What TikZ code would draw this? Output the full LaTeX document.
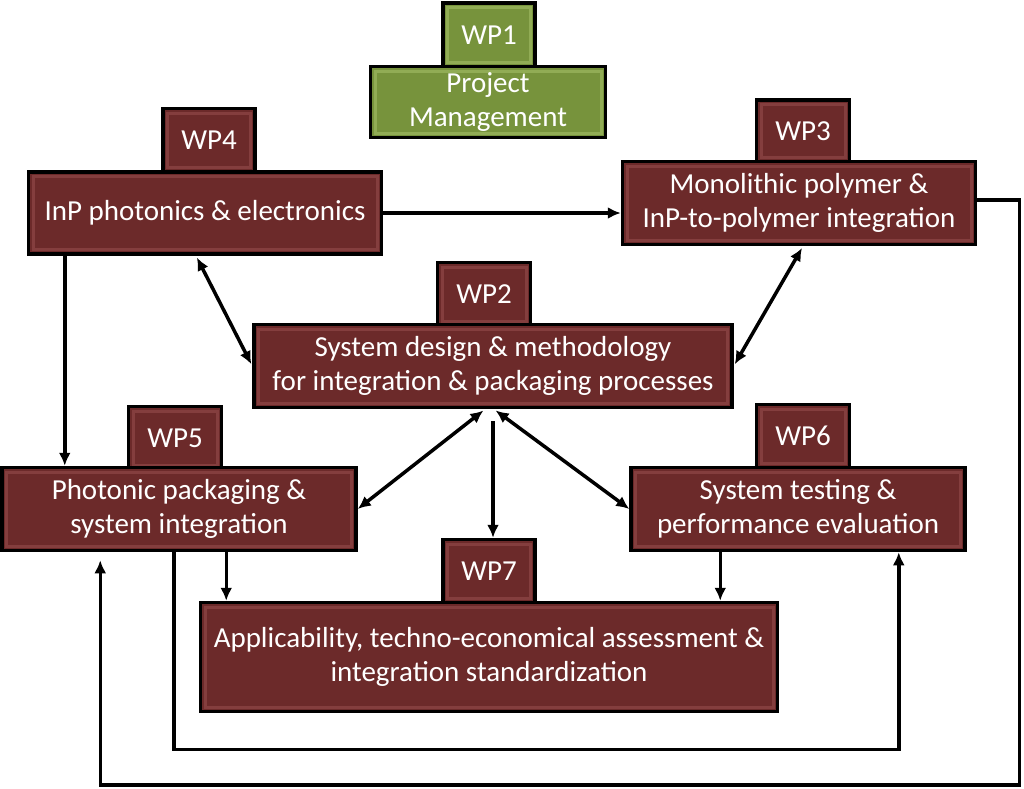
\documentclass[tikz,border=0pt]{standalone}
\usepackage{fontspec}
\setmainfont{Carlito}
\usetikzlibrary{arrows.meta}
\definecolor{boxred}{RGB}{108,42,42}
\definecolor{boxgreen}{RGB}{119,147,60}
\definecolor{bevelred}{RGB}{132,62,62}
\definecolor{bevelgreen}{RGB}{145,172,85}

\tikzset{
  bevel/.style={bevelred},
  wp/.style={draw=black, line width=3.5pt, fill=boxred, text=white, align=center, inner sep=0pt,
    font=\fontsize{29}{34}\selectfont,
    path picture={\draw[bevel, line width=3pt]
      ([shift={(4.5pt,-4.5pt)}]path picture bounding box.north west) rectangle
      ([shift={(-4.5pt,4.5pt)}]path picture bounding box.south east);}},
  wpgreen/.style={wp, fill=boxgreen, bevel/.style={bevelgreen}},
  link/.style={line width=3.5pt, -{Latex[length=13pt,width=12pt]}},
  dlink/.style={line width=3.5pt, {Latex[length=13pt,width=12pt]}-{Latex[length=13pt,width=12pt]}}
}

\begin{document}
\begin{tikzpicture}[x=1pt, y=-1pt]
\useasboundingbox (0,0) rectangle (1024,788);

% tabs
\node[wpgreen, minimum width=92pt, minimum height=64pt] (wp1tab) at (489,35) {WP1};
\node[wp, minimum width=92pt, minimum height=63pt] (wp4tab) at (209,140) {WP4};
\node[wp, minimum width=93pt, minimum height=62pt] (wp3tab) at (803,131) {WP3};
\node[wp, minimum width=93pt, minimum height=63pt] (wp2tab) at (484,294) {WP2};
\node[wp, minimum width=93pt, minimum height=63pt] (wp5tab) at (175,438) {WP5};
\node[wp, minimum width=93pt, minimum height=63pt] (wp6tab) at (803,436) {WP6};
\node[wp, minimum width=92pt, minimum height=63pt] (wp7tab) at (489,571) {WP7};

% main boxes
\node[wpgreen, minimum width=235pt, minimum height=71pt] (wp1) at (488,102) {Project\\Management};
\node[wp, minimum width=353pt, minimum height=82pt] (wp4) at (205,213) {InP photonics \& electronics};
\node[wp, minimum width=353pt, minimum height=83pt] (wp3) at (799,203) {Monolithic polymer \&\\InP-to-polymer integration};
\node[wp, minimum width=478pt, minimum height=83pt] (wp2) at (493,366) {System design \& methodology\\for integration \& packaging processes};
\node[wp, minimum width=354pt, minimum height=83pt] (wp5) at (179,509) {Photonic packaging \&\\system integration};
\node[wp, minimum width=334pt, minimum height=83pt] (wp6) at (798,509) {System testing \&\\performance evaluation};
\node[wp, minimum width=577pt, minimum height=109pt] (wp7) at (489,657) {Applicability, techno-economical assessment \&\\integration standardization};

% links
\draw[link] (wp4.east) -- (wp4.east -| wp3.west);
\draw[dlink, shorten <=2pt, shorten >=2pt] ([xshift=-9pt]wp4.south) -- (wp2.west);
\draw[dlink, shorten <=2pt, shorten >=2pt] ([xshift=4pt]wp3.south) -- (wp2.east);
\draw[dlink, shorten <=2pt] ([xshift=-8pt]wp2.south) -- (wp5.east);
\draw[dlink, shorten <=2pt] ([xshift=1pt]wp2.south) -- (wp6.west);
\draw[link, shorten <=12pt] (wp2.south) -- (wp2.south |- wp7tab.north);
\draw[link] ([xshift=38pt]wp4.south west) -- ([xshift=38pt]wp4.south west |- wp5.north);
\draw[link] ([xshift=226pt]wp5.south west) -- ([xshift=226pt]wp5.south west |- wp7.north);
\draw[link] ([xshift=91pt]wp6.south west) -- ([xshift=91pt]wp6.south west |- wp7.north);
\draw[link, line join=miter] ([xshift=-5pt]wp5.south) -- ++(0,197) -| ([xshift=-68pt]wp6.south east);
\draw[link, line join=miter, shorten >=8pt] ([yshift=3pt]wp3.east) -- ++(42,0) -- ++(0,585) -| ([xshift=100pt]wp5.south west);
\end{tikzpicture}
\end{document}
